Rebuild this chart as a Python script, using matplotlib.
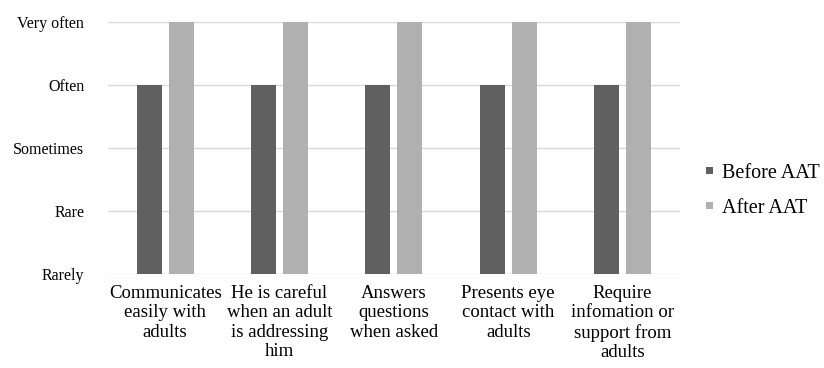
import matplotlib
matplotlib.use("Agg")
import matplotlib.pyplot as plt
import numpy as np

categories = [
    "Communicates\neasily with\nadults",
    "He is careful\nwhen an adult\nis addressing\nhim",
    "Answers\nquestions\nwhen asked",
    "Presents eye\ncontact with\nadults",
    "Require\ninfomation or\nsupport from\nadults",
]
before_aat = [4, 4, 4, 4, 4]
after_aat = [5, 5, 5, 5, 5]
scale_levels = [1, 2, 3, 4, 5]
scale_labels = ["Rarely", "Rare", "Sometimes", "Often", "Very often"]

plt.rcParams["font.family"] = ["Liberation Serif", "DejaVu Serif"]

fig = plt.figure(figsize=(8.24, 3.68), dpi=100)
ax = fig.add_axes([0.131, 0.2554, 0.694, 0.6848])

x = np.arange(len(categories))
w = 0.22
off = 0.14
base = 1
ax.bar(x - off, np.array(before_aat) - base, w, bottom=base, color="#606060", label="Before AAT", zorder=3)
ax.bar(x + off, np.array(after_aat) - base, w, bottom=base, color="#b0b0b0", label="After AAT", zorder=3)

ax.set_ylim(1, 5)
ax.set_xlim(-0.5, len(categories) - 0.5)
ax.set_yticks(scale_levels)
ax.set_yticklabels(scale_labels, fontsize=11.5)
ax.set_xticks(x)
ax.set_xticklabels(categories, fontsize=13.5, linespacing=1.17)
ax.tick_params(axis="both", length=0, colors="#000000")
ax.tick_params(axis="y", pad=17)
ax.tick_params(axis="x", pad=8)
for s in ax.spines.values():
    s.set_visible(False)
ax.yaxis.grid(True, color="#d9d9d9", linewidth=1, zorder=0)
ax.set_axisbelow(True)

leg = fig.legend(loc="center left", bbox_to_anchor=(0.857, 0.482), frameon=False,
                 borderpad=0, borderaxespad=0,
                 fontsize=14.5, handlelength=0.36, handleheight=0.16, handletextpad=0.45,
                 labelspacing=0.8)

fig.savefig("out.png", dpi=100)
